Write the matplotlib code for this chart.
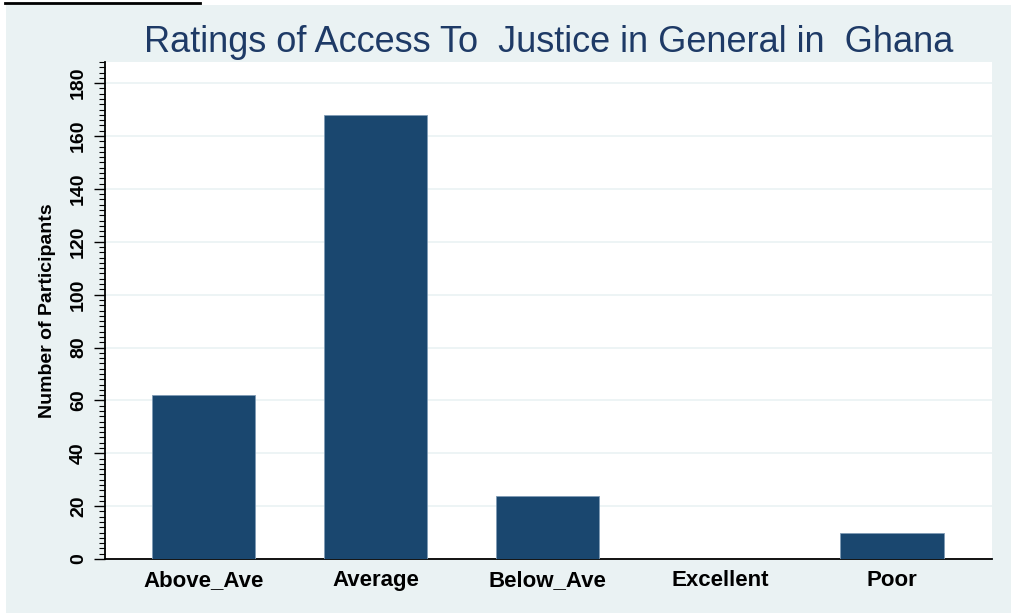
import matplotlib
matplotlib.use("Agg")
import matplotlib.pyplot as plt
from matplotlib.lines import Line2D
from matplotlib.patches import Rectangle
from matplotlib.ticker import MultipleLocator

# values
categories = ["Above_Ave", "Average", "Below_Ave", "Excellent", "Poor"]
participants = [62, 168, 24, 0, 10]
y_ticks = [0, 20, 40, 60, 80, 100, 120, 140, 160, 180]

bg = "#eaf2f3"
bar_color = "#1a476f"

plt.rcParams["font.family"] = ["Liberation Sans", "DejaVu Sans"]

W, H = 1013, 614
fig = plt.figure(figsize=(W / 100, H / 100), dpi=100)
fig.patch.set_facecolor("white")

# light Stata-style graph region
fig.add_artist(Rectangle((6 / W, 1 - 613 / H), (1011 - 6) / W, (613 - 5) / H,
                         transform=fig.transFigure, facecolor=bg,
                         edgecolor="none", zorder=0))
# leftover rule from the page above the figure
fig.add_artist(Line2D([5 / W, 200 / W], [1 - 3 / H, 1 - 3 / H],
                      transform=fig.transFigure, color="black", lw=2))

ax = fig.add_axes([105 / W, 1 - 559 / H, (992 - 105) / W, (559 - 62) / H])
ax.set_facecolor("white")

x = range(len(categories))
ax.bar(x, participants, width=0.6, color=bar_color,
       edgecolor="#7f9bb5", linewidth=0.6, zorder=3)

ax.set_xlim(-0.57, 4.58)
ax.set_ylim(0, 188)
ax.set_yticks(y_ticks)
ax.yaxis.set_minor_locator(MultipleLocator(2))
ax.grid(axis="y", color=bg, linewidth=1.2, zorder=0)

ax.set_xticks(list(x))
ax.set_xticklabels(categories, fontsize=16, fontweight="bold")
ax.tick_params(axis="x", length=0, pad=8)
for lab in ax.get_yticklabels():
    lab.set_rotation(90)
    lab.set_va("center")
    lab.set_fontweight("bold")
ax.tick_params(axis="y", which="major", length=8, width=1, labelsize=14, pad=5)
ax.tick_params(axis="y", which="minor", length=4, width=0.8)

for s in ["top", "right"]:
    ax.spines[s].set_visible(False)
ax.spines["left"].set_linewidth(1.3)
ax.spines["bottom"].set_linewidth(1.3)

ax.set_ylabel("Number of Participants", fontsize=14, fontweight="bold", labelpad=10)
fig.text((105 + 992) / 2 / W, 1 - 42 / H,
         "Ratings of Access To  Justice in General in  Ghana",
         ha="center", va="center", fontsize=26, color="#1e3a66")

fig.savefig("out.png", dpi=100)
